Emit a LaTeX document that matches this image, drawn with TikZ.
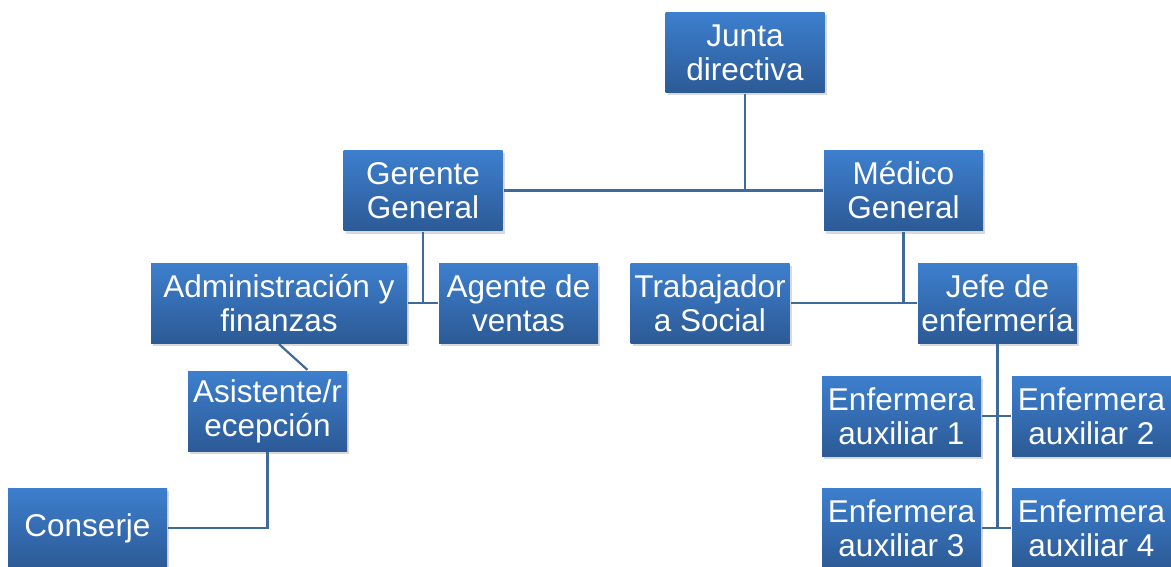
\documentclass[tikz,border=0pt]{standalone}
\usepackage{fontspec}
\setmainfont{Liberation Sans}
\usetikzlibrary{shadows}
\definecolor{azulA}{RGB}{61,127,206}
\definecolor{azulM}{RGB}{54,112,186}
\definecolor{azulB}{RGB}{44,90,150}
\definecolor{lineaazul}{RGB}{64,106,155}

\begin{document}
\begin{tikzpicture}[x=1pt,y=-1pt,line width=2.2pt]
\tikzstyle{caja}=[rectangle,inner sep=0pt,minimum width=159pt,minimum height=80pt,align=center,text=white,font=\fontsize{31.5}{34}\selectfont,top color=azulA,middle color=azulM,bottom color=azulB,drop shadow={shadow xshift=2pt,shadow yshift=-3pt,opacity=0.3}];
\tikzstyle{linea}=[draw=lineaazul];

\useasboundingbox (0,0) rectangle (1171,567);

\node [caja] (junta) at (745,52.5) {Junta\\directiva};
\node [caja] (gerente) at (423,190.5) {Gerente\\General};
\node [caja] (medico) at (903.5,190.5) {Médico\\General};
\node [caja,minimum width=256pt] (admin) at (279,303) {Administración y\\finanzas};
\node [caja] (agente) at (518.5,303) {Agente de\\ventas};
\node [caja] (trabajador) at (710,303) {Trabajador\\a Social};
\node [caja] (jefe) at (997.5,303) {Jefe de\\enfermería};
\node [caja] (asistente) at (267.5,411) {Asistente/r\\ecepción};
\node [caja] (conserje) at (87.5,528) {Conserje};
\node [caja] (aux1) at (901.5,416) {Enfermera\\auxiliar 1};
\node [caja] (aux2) at (1091.5,416) {Enfermera\\auxiliar 2};
\node [caja] (aux3) at (901.5,528) {Enfermera\\auxiliar 3};
\node [caja] (aux4) at (1091.5,528) {Enfermera\\auxiliar 4};

\draw [linea] (junta.south) -- (junta.south |- gerente.east);
\draw [linea] (gerente.east) -- (medico.west);
\draw [linea] (gerente.south) -- (gerente.south |- admin.east);
\draw [linea] (admin.east) -- (agente.west);
\draw [linea] (admin.south) -- ([xshift=40pt]asistente.north);
\draw [linea] (asistente.south) |- (conserje.east);
\draw [linea] (medico.south) -- (medico.south |- jefe.west);
\draw [linea] (trabajador.east) -- (jefe.west);
\draw [linea] (jefe.south) -- (jefe.south |- aux3.east);
\draw [linea] (aux1.east) -- (aux2.west);
\draw [linea] (aux3.east) -- (aux4.west);
\end{tikzpicture}
\end{document}
